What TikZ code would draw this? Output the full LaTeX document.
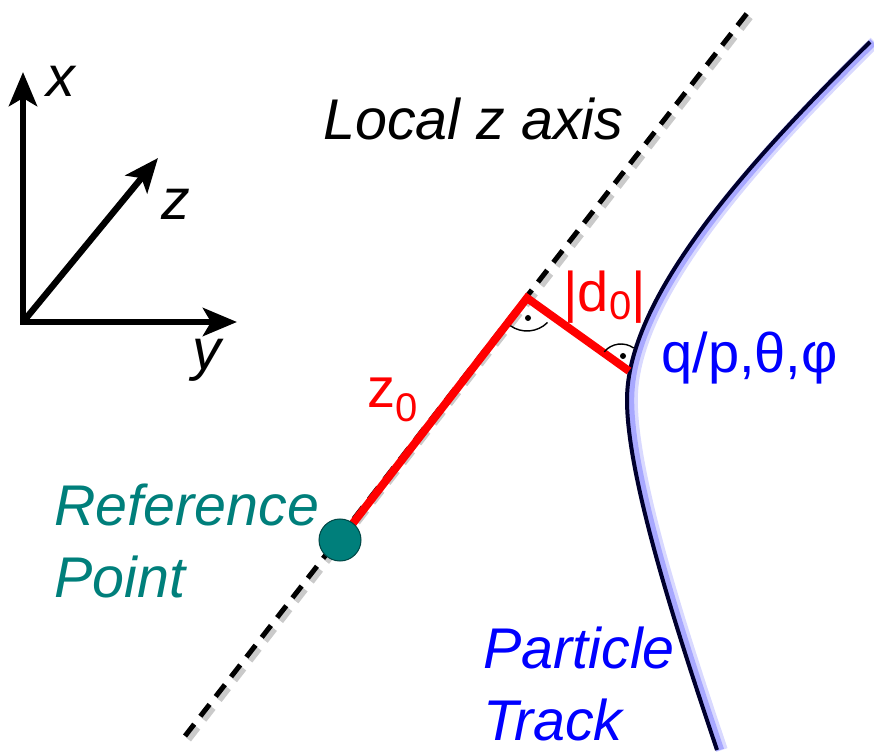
\documentclass[tikz,border=0pt]{standalone}
\usepackage{fontspec}
\setmainfont{Liberation Sans}
\usetikzlibrary{arrows.meta,calc}
\definecolor{cRed}{HTML}{FF0000}
\definecolor{cTeal}{HTML}{007F7B}
\definecolor{cBlue}{HTML}{0000FF}
\definecolor{cTrack}{HTML}{00002E}
\definecolor{cGlow}{HTML}{8080FF}
\tikzset{
  lbl/.style={inner sep=0pt, font=\fontsize{28}{36}\selectfont},
  ilbl/.style={inner sep=0pt, font=\fontsize{28.7}{36}\selectfont\itshape},
  ax/.style={line width=3.2pt, line join=miter,
             >={Stealth[length=17pt,width=14pt,inset=4pt]}},
  zax/.style={line width=2.5pt, dash pattern=on 7.5pt off 5pt},
  zsh/.style={zax, black!35, line width=3pt, opacity=.6,
              transform canvas={xshift=1.8pt,yshift=-1.8pt}},
  seg/.style={cRed, line width=4pt, line join=miter},
  trk/.style={cTrack, line width=2pt},
  glow/.style={cGlow, line width=6pt, opacity=.3, transform canvas={xshift=2.4pt}},
  glowin/.style={cGlow, line width=4pt, opacity=.55, transform canvas={xshift=1.6pt}},
  refpt/.style={circle, fill=cTeal, draw=cTeal!55!black, line width=0.5pt,
                minimum size=21pt, inner sep=0pt},
  rmark/.style={line width=0.7pt},
}
\newcommand{\trackpts}{(t0) .. controls (740,170) and (627,300) .. (tv)
  .. controls (627,480) and (680,640) .. (t1)}

\begin{document}
\begin{tikzpicture}[x=0.5pt, y=-0.5pt]
  \useasboundingbox (0,0) rectangle (874,754);
  % coordinate axes
  \coordinate (o) at (23,322);
  \coordinate (xt) at (23,72);
  \coordinate (yt) at (237,322);
  \coordinate (zt) at (158,158);
  \draw[ax, <->] (xt) -- (o) -- (yt);
  \draw[ax, ->] (o) -- (zt);
  \node[ilbl, anchor=base west] (xl) at (46,97) {x};
  \node[ilbl, anchor=base west] (zl) at (161,220) {z};
  \node[ilbl, anchor=base west] (yl) at (192,370) {y};
  % local z axis
  \coordinate (zs) at (185,736);
  \coordinate (ze) at (748,12);
  \draw[zsh] (zs) -- (ze);
  \draw[zax] (zs) -- (ze);
  \node[ilbl, anchor=base west] (lz) at (323,140) {Local z axis};
  % track
  \coordinate (t0) at (870,42);
  \coordinate (tv) at (627,400);
  \coordinate (t1) at (717,750);
  \draw[glow] \trackpts;
  \draw[glowin] \trackpts;
  \draw[trk] \trackpts;
  \node[ilbl, text=cBlue, align=left, anchor=north west] (pt) at (483,627) {Particle\\Track};
  \node[lbl, text=cBlue, anchor=base west] (qp) at (661,373) {q/p,θ,φ};
  % perigee
  \coordinate (rc) at (340,540);
  \coordinate (f) at (527,298);
  \coordinate (tp) at (629,371);
  \draw[seg] (rc) -- (f) -- (tp);
  \node[refpt] (rp) at (rc) {};
  \node[ilbl, text=cTeal, align=left, anchor=north west] (rpl) at (54,484) {Reference\\Point};
  \node[lbl, text=cRed, anchor=base west] (z0) at (367,408)
    {z\raisebox{-7pt}{\fontsize{20}{20}\selectfont 0}};
  \node[lbl, text=cRed, anchor=base west] (d0) at (563,312)
    {|d\raisebox{-4pt}{\fontsize{20}{20}\selectfont 0}|};
  % right angle marks
  \coordinate (m1) at (527,302);
  \coordinate (m2) at (621,366);
  \draw[rmark] ($(m1)+(45:29)$) arc[start angle=45, end angle=125, radius=29];
  \draw[rmark] ($(m2)+(220:22)$) arc[start angle=220, end angle=305, radius=22];
  \fill (528,318) circle[radius=3];
  \fill (623,356) circle[radius=3];
\end{tikzpicture}
\end{document}
